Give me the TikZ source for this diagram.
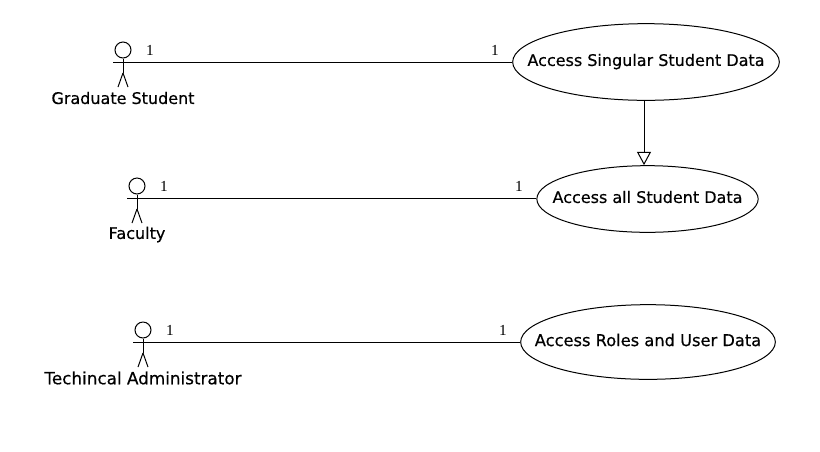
\documentclass[tikz,border=0pt]{standalone}
\usepackage{fontspec}
\setmainfont{DejaVu Sans}[RawFeature={embolden=0.4}]
\newfontfamily\multfont{Liberation Serif}
\usetikzlibrary{arrows.meta, shapes.geometric}

\begin{document}
\begin{tikzpicture}[x=0.75pt, y=-0.75pt, line width=0.75pt,
    usecase/.style={ellipse, draw, inner sep=0pt, font=\fontsize{12}{14}\selectfont},
    actorname/.style={font=\fontsize{12}{14}\selectfont, inner sep=0pt},
    mult/.style={font=\multfont\fontsize{11.5}{13}\selectfont, inner sep=0pt},
    assoc/.style={-},
    inherit/.style={-{Triangle[open, length=10pt, width=10.5pt]}},
    actor/.pic={
        \node[circle, draw, inner sep=0pt, minimum size=12pt] (-head) at (0,0) {};
        \coordinate (-hip) at (0,23);
        \coordinate (-hand) at (-10,12);
        \draw (-head.south) -- (-hip);
        \draw (-hip) -- (-5,37);
        \draw (-hip) -- (5,37);
    }]
    \useasboundingbox (0,0) rectangle (820,451);

    % Actors
    \pic (grad) at (123,50) {actor};
    \pic (fac) at (137,186) {actor};
    \pic (admin) at (143,330) {actor};
    \node[actorname] (gradname) at (123,98) {Graduate Student};
    \node[actorname] (facname) at (137,234.5) {Faculty};
    \node[actorname, font=\fontsize{12.6}{14}\selectfont] (adminname) at (143,378) {Techincal Administrator};

    % Use cases
    \node[usecase, minimum width=200pt, minimum height=57.5pt] (single) at (646,62) {\makebox[0pt]{\raisebox{3.2pt}{Access Singular Student Data}}};
    \node[usecase, minimum width=166pt, minimum height=50pt] (all) at (647.5,199) {\makebox[0pt]{\raisebox{3.2pt}{Access all Student Data}}};
    \node[usecase, minimum width=191pt, minimum height=56pt, font=\fontsize{12.2}{14}\selectfont] (roles) at (648,342) {\makebox[0pt]{\raisebox{3.2pt}{Access Roles and User Data}}};

    % Multiplicities
    \node[mult] (m1) at (150,50) {1};
    \node[mult] (m2) at (495,50) {1};
    \node[mult] (m3) at (164,186) {1};
    \node[mult] (m4) at (519,186) {1};
    \node[mult] (m5) at (170,330) {1};
    \node[mult] (m6) at (503,330) {1};

    % Connectors
    \draw[assoc] (grad-hand) -- (single.west);
    \draw[assoc] (fac-hand) -- (all.west |- fac-hand);
    \draw[assoc] (admin-hand) -- (roles.west);
    \draw[inherit] ([xshift=-1.5pt]single.south) -- ([xshift=-1.5pt]single.south |- all.north);

\end{tikzpicture}
\end{document}
